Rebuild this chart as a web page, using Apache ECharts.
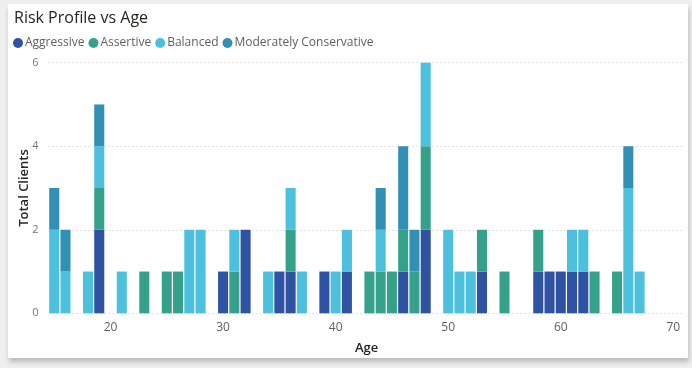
<!DOCTYPE html>
<html>
<head>
<meta charset="utf-8">
<script src="https://cdn.jsdelivr.net/npm/echarts@6/dist/echarts.min.js"></script>
<style>
  html, body { margin: 0; padding: 0; background: #efefef; width: 692px; height: 368px; overflow: hidden; }
  #card { position: absolute; left: 8px; top: 4px; width: 680px; height: 354px; background: #fff;
          box-shadow: 1px 4px 5px rgba(0,0,0,0.22); }
  #chart { position: absolute; left: 0; top: 0; width: 692px; height: 368px; }
</style>
</head>
<body>
<div id="card"></div>
<div id="chart"></div>
<script>
// Client counts per age, split by risk profile
const ages =            [15,16,18,19,21,23,25,26,27,28,30,31,32,34,35,36,37,39,40,41,43,44,45,46,47,48,50,51,52,53,55,58,59,60,61,62,63,65,66,67];
const aggressive =      [ 0, 0, 0, 2, 0, 0, 0, 0, 0, 0, 1, 0, 2, 0, 1, 1, 0, 1, 0, 1, 0, 0, 0, 1, 0, 2, 0, 0, 0, 1, 0, 1, 1, 1, 1, 1, 0, 0, 0, 0];
const assertive =       [ 0, 0, 0, 1, 0, 1, 1, 1, 0, 0, 0, 1, 0, 0, 0, 1, 0, 0, 0, 0, 1, 1, 1, 1, 1, 2, 0, 0, 0, 1, 1, 1, 0, 0, 0, 0, 1, 1, 0, 0];
const balanced =        [ 2, 1, 1, 1, 1, 0, 0, 0, 2, 2, 0, 1, 0, 1, 0, 1, 1, 0, 1, 1, 0, 1, 0, 0, 0, 2, 2, 1, 1, 0, 0, 0, 0, 0, 1, 1, 0, 0, 3, 1];
const modConservative = [ 1, 1, 0, 1, 0, 0, 0, 0, 0, 0, 0, 0, 0, 0, 0, 0, 0, 0, 0, 0, 0, 1, 0, 2, 1, 0, 0, 0, 0, 0, 0, 0, 0, 0, 0, 0, 0, 0, 1, 0];

const seriesNames = ['Aggressive', 'Assertive', 'Balanced', 'Moderately Conservative'];
const seriesValues = [aggressive, assertive, balanced, modConservative];
const palette = ['#2f52a2', '#36a18a', '#4dc0de', '#3190b3'];
const xTicks = [20, 30, 40, 50, 60, 70];

const chart = echarts.init(document.getElementById('chart'), null, { renderer: 'canvas' });

// Stack segments: [age, base, top] per series, accumulated bottom-up
const runningTotal = ages.map(() => 0);
const stackedData = seriesValues.map(values =>
  ages.map((age, j) => {
    const base = runningTotal[j];
    runningTotal[j] += values[j];
    return [age, base, runningTotal[j]];
  }).filter(d => d[2] > d[1])
);

function renderSegment(params, api) {
  const age = api.value(0);
  const lo = api.coord([age, api.value(1)]);
  const hi = api.coord([age, api.value(2)]);
  const w = api.size([1, 0])[0] - 1.2;
  return {
    type: 'rect',
    shape: { x: lo[0] - w / 2, y: hi[1], width: w, height: lo[1] - hi[1] },
    style: { fill: api.visual('color') }
  };
}

const series = seriesNames.map((name, i) => ({
  name,
  type: 'custom',
  renderItem: renderSegment,
  encode: { x: 0, y: [1, 2] },
  itemStyle: { color: palette[i] },
  emphasis: { disabled: true },
  data: stackedData[i]
}));

const axisNameStyle = { fontFamily: 'Open Sans', fontSize: 13, fontWeight: 600, color: '#252423' };

chart.setOption({
  backgroundColor: 'transparent',
  animation: false,
  color: palette,
  title: {
    text: 'Risk Profile vs Age',
    left: 9, top: 5,
    textStyle: { fontFamily: 'Open Sans', fontSize: 16, fontWeight: 'normal', color: '#252423' }
  },
  legend: {
    left: 8, top: 32,
    icon: 'circle',
    itemWidth: 10, itemHeight: 10, itemGap: 4,
    textStyle: { fontFamily: 'Open Sans', fontSize: 12, color: '#605e5c', padding: [0, 0, 0, -3] },
    data: seriesNames
  },
  grid: { left: 48.6, right: 7.4, top: 62.7, bottom: 54.7, containLabel: false },
  xAxis: {
    type: 'value',
    min: 14.5, max: 71,
    name: 'Age',
    nameLocation: 'middle',
    nameGap: 28,
    nameMoveOverlap: false,
    nameTextStyle: axisNameStyle,
    axisLine: { show: false },
    axisTick: { show: false },
    splitLine: { show: false },
    axisLabel: {
      customValues: xTicks,
      fontFamily: 'Open Sans', fontSize: 12, color: '#605e5c', margin: 8
    }
  },
  yAxis: {
    type: 'value',
    min: 0, max: 6, interval: 2,
    name: 'Total Clients',
    nameLocation: 'middle',
    nameGap: 18,
    nameMoveOverlap: false,
    nameTextStyle: axisNameStyle,
    axisLine: { show: false },
    axisTick: { show: false },
    axisLabel: { fontFamily: 'Open Sans', fontSize: 11, color: '#777', margin: 10 },
    splitLine: { lineStyle: { type: [1, 3], color: '#c8c8c8', width: 1 } }
  },
  series
});
</script>
</body>
</html>
